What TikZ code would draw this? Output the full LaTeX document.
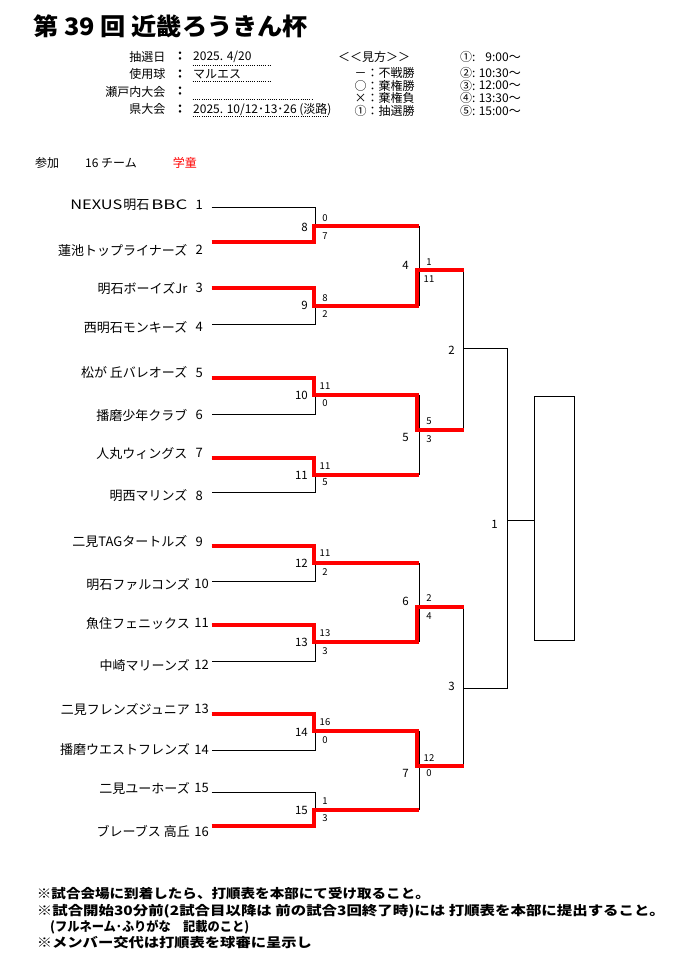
\documentclass[tikz,border=0pt]{standalone}
\usepackage{fontspec}
\setmainfont{Noto Sans CJK JP}
\usepackage{graphicx}
\newcommand\nexusname{\resizebox{52pt}{\height}{NEXUS}\hspace{1pt}明石\hspace{2pt}\resizebox{36pt}{\height}{BBC}}
\begin{document}
\begin{tikzpicture}[x=1pt,y=-1pt,
  tname/.style={inner sep=0pt,anchor=east,font=\fontsize{13}{15}\selectfont},
  mnum/.style={inner sep=0pt,anchor=east,font=\fontsize{11.5}{13}\selectfont},
  score/.style={inner sep=0pt,font=\fontsize{9.5}{11}\selectfont},
  hdr/.style={inner sep=0pt,font=\fontsize{12}{14}\selectfont},
  brk/.style={line width=0.9pt,black},
  win/.style={line width=4pt,red,line join=miter,line cap=butt},
  dotl/.style={line width=0.8pt,dash pattern=on 1pt off 1.2pt},
  note/.style={inner sep=0pt,anchor=west,font=\fontsize{13}{15}\selectfont\bfseries}]
\fill[white] (0,0) rectangle (694,965);
\useasboundingbox (0,0) rectangle (694,965);

% ---------- title and header ----------
\node[inner sep=0pt,anchor=west,font=\fontsize{24}{28}\selectfont\bfseries] (title) at (33,26)
  {\resizebox{275pt}{\height}{第 39 回 近畿ろうきん杯}};

\node[hdr,anchor=east] (h1) at (165.5,56.7) {抽選日};
\node[hdr,anchor=east] (h2) at (165.5,74) {使用球};
\node[hdr,anchor=east] (h3) at (165.5,91.7) {瀬戸内大会};
\node[hdr,anchor=east] (h4) at (165.5,109.3) {県大会};
\foreach \i/\y in {1/56.7,2/74,3/91.7,4/109.3}
  \node[hdr,font=\fontsize{12}{14}\selectfont\bfseries] (c\i) at (180,\y) {：};
\node[hdr,anchor=west] (v1) at (193,56.7) {2025. 4/20};
\node[hdr,anchor=west] (v2) at (193,74) {マルエス};
\node[hdr,anchor=west] (v4) at (193,109.3) {2025. 10/12･13･26 (淡路)};
\coordinate (d1a) at (192.7,65);   \coordinate (d1b) at (270.7,65);
\coordinate (d2a) at (192.7,81.7); \coordinate (d2b) at (270.7,81.7);
\coordinate (d3a) at (192.7,99);   \coordinate (d3b) at (311.7,99);
\coordinate (d4a) at (192.7,116.7);\coordinate (d4b) at (327,116.7);
\foreach \i in {1,2,3,4} \draw[dotl] (d\i a) -- (d\i b);

\node[hdr,anchor=west] (lg0) at (338,57.3) {＜＜見方＞＞};
\node[hdr,anchor=west] (lg1) at (354.5,73.3) {－：不戦勝};
\node[hdr,anchor=west] (lg2) at (354.5,85.7) {○：棄権勝};
\node[hdr,anchor=west] (lg3) at (354.5,98.3) {×：棄権負};
\node[hdr,anchor=west] (lg4) at (354.5,111) {①：抽選勝};

\foreach \k/\c/\t/\y in {1/①/9:00～/57.3,2/②/10:30～/73.3,3/③/12:00～/85.7,4/④/13:30～/98.3,5/⑤/15:00～/111}{
  \node[hdr,anchor=west] (tc\k) at (460,\y) {\c:};
  \node[hdr,anchor=east] (tt\k) at (521,\y) {\t};
}

\node[hdr,anchor=west] (sanka) at (35,162.7) {参加};
\node[hdr,anchor=west] (nteam) at (85,162.7) {16 チーム};
\node[hdr,anchor=west,text=red] (gaku) at (172.7,162.7) {学童};

% ---------- teams ----------
\foreach \i/\n/\ly/\y in {1/\nexusname/205/207.5,2/蓮池トップライナーズ/250/242,
  3/明石ボーイズJr/288.3/288,4/西明石モンキーズ/327.3/324.5,5/松が 丘バレオーズ/372.7/378,
  6/播磨少年クラブ/415/414.5,7/人丸ウィングス/453.3/458,8/明西マリンズ/496/492,
  9/二見TAGタートルズ/541.7/546}{
  \node[tname] (t\i) at (187.5,\ly) {\n};
  \node[tname] (tn\i) at (203,\ly) {\i};
  \coordinate (s\i) at (211.5,\y);
  \coordinate (v\i) at (315.5,\y);
}
\foreach \i/\n/\ly/\y in {10/明石ファルコンズ/584.3/581,11/魚住フェニックス/623.3/624.5,
  12/中崎マリーンズ/665/661,13/二見フレンズジュニア/709.3/714,14/播磨ウエストフレンズ/750/750,
  15/二見ユーホーズ/788.3/792.5,16/ブレーブス 高丘/831.7/825.5}{
  \node[tname] (t\i) at (190,\ly) {\n};
  \node[tname] (tn\i) at (209,\ly) {\i};
  \coordinate (s\i) at (211.5,\y);
  \coordinate (v\i) at (315.5,\y);
}

% ---------- match coordinates ----------
\foreach \m/\y in {8/226,9/305.5,10/395,11/475,12/563,13/642,14/731,15/810}{
  \coordinate (a\m) at (315.5,\y); \coordinate (b\m) at (419,\y);}
\foreach \m/\y in {4/270,5/430,6/606.5,7/766}{
  \coordinate (a\m) at (419,\y); \coordinate (b\m) at (463.5,\y);}
\foreach \m/\y in {2/348.5,3/688}{
  \coordinate (a\m) at (463.5,\y); \coordinate (b\m) at (507.5,\y);}
\coordinate (a1) at (507.5,520);
\node[draw,line width=0.9pt,inner sep=0pt,minimum width=40pt,minimum height=244pt,anchor=north west] (final) at (533.5,396) {};

% ---------- black bracket ----------
\foreach \p/\q/\m in {1/2/8,3/4/9,5/6/10,7/8/11,9/10/12,11/12/13,13/14/14,15/16/15}{
  \draw[brk] (s\p) -- (v\p) -- (v\q) -- (s\q);
  \draw[brk] (a\m) -- (b\m);}
\foreach \p/\q/\m in {8/9/4,10/11/5,12/13/6,14/15/7}{
  \draw[brk] (b\p) -- (b\q);
  \draw[brk] (a\m) -- (b\m);}
\foreach \p/\q/\m in {4/5/2,6/7/3}{
  \draw[brk] (b\p) -- (b\q);
  \draw[brk] (a\m) -- (b\m);}
\draw[brk] (b2) -- (b3);
\draw[brk] (a1) -- (final.west |- a1);

% ---------- winners (red) ----------
\draw[win] (s2) -| ([xshift=-2pt]a8) -- (b8);
\draw[win] (s3) -| ([xshift=-2pt]a9) -- ([xshift=-2pt]b9) |- (b4);
\draw[win] (s5) -| ([xshift=-2pt]a10) -- ([xshift=-2pt]b10) |- (b5);
\draw[win] (s7) -| ([xshift=-2pt]a11) -- (b11);
\draw[win] (s9) -| ([xshift=-2pt]a12) -- (b12);
\draw[win] (s11) -| ([xshift=-2pt]a13) -- ([xshift=-2pt]b13) |- (b6);
\draw[win] (s13) -| ([xshift=-2pt]a14) -- ([xshift=-2pt]b14) |- (b7);
\draw[win] (s16) -| ([xshift=-2pt]a15) -- (b15);

% ---------- match numbers ----------
\foreach \m/\y in {8/227,9/305,10/395,11/475,12/563,13/642,14/732,15/810}
  \node[mnum] (mn\m) at (308,\y) {\m};
\foreach \m/\y in {4/265,5/437,6/601,7/773}
  \node[mnum] (mn\m) at (409,\y) {\m};
\node[mnum] (mn2) at (455,350.7) {2};
\node[mnum] (mn3) at (455,686) {3};
\node[mnum] (mn1) at (498,524) {1};

% ---------- scores ----------
\foreach \k/\s/\y in {8a/0/217.7,8b/7/235.7,9a/8/297.7,9b/2/314.3,10a/11/386,10b/0/403.3,
  11a/11/465.7,11b/5/481.7,12a/11/553.3,12b/2/571.7,13a/13/633.3,13b/3/650.7,
  14a/16/722.3,14b/0/740,15a/1/801,15b/3/818.3}
  \node[score] (sc\k) at (325,\y) {\s};
\foreach \k/\s/\y in {4a/1/261.7,4b/11/279.3,5a/5/421,5b/3/439.3,6a/2/597.7,6b/4/616,
  7a/12/757.7,7b/0/773.3}
  \node[score] (sc\k) at (429,\y) {\s};

% ---------- notes ----------
\node[note] (nt1) at (36.7,894) {\resizebox{393pt}{\height}{※試合会場に到着したら、打順表を本部にて受け取ること。}};
\node[note] (nt2) at (36.7,911) {\resizebox{628pt}{\height}{※試合開始30分前(2試合目以降は 前の試合3回終了時)には 打順表を本部に提出すること。}};
\node[note] (nt3) at (50,927) {\resizebox{199pt}{\height}{(フルネーム･ふりがな　記載のこと)}};
\node[note] (nt4) at (36.7,943) {\resizebox{275pt}{\height}{※メンバー交代は打順表を球審に呈示し}};
\end{tikzpicture}
\end{document}
